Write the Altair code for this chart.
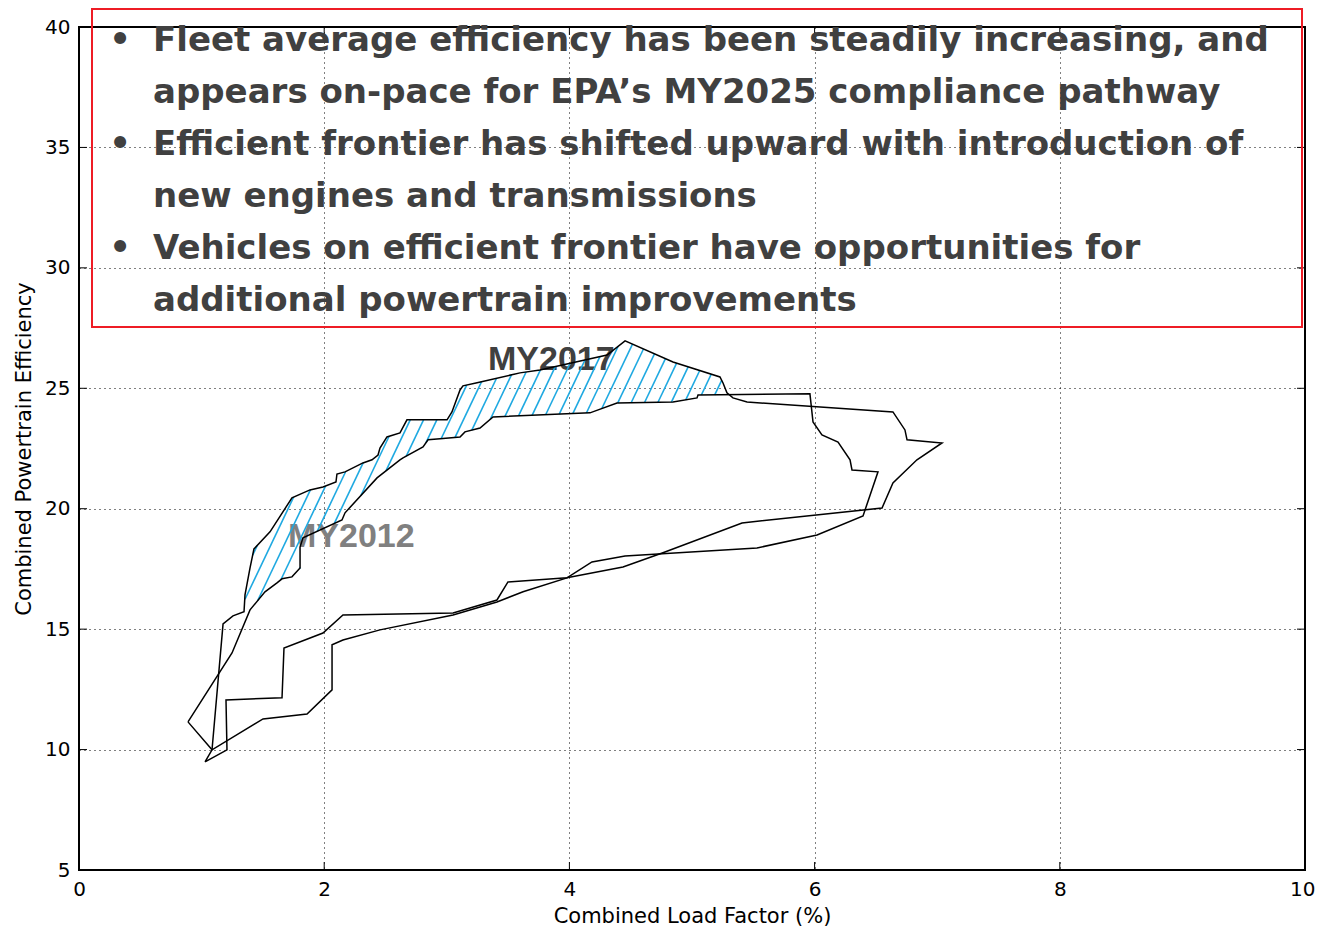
import altair as alt
import pandas as pd
import numpy as np

# ---------------- data ----------------
# MY2017 envelope (closed loop): frontier, right side, lower boundary
MY2017_X = [1.028, 1.085, 1.175, 1.256, 1.346, 1.354, 1.395, 1.427, 1.558, 1.737,
            1.884, 1.990, 2.096, 2.104, 2.170, 2.316, 2.390, 2.439, 2.455, 2.512,
            2.618, 2.675, 3.002, 3.042, 3.108, 3.132, 3.238, 3.597, 3.760, 4.307,
            4.454, 4.845, 5.228, 5.253, 5.285, 5.334, 5.449, 6.639, 6.737, 6.754,
            7.039, 6.835, 6.639, 6.550, 5.408, 4.763, 4.437, 3.980, 3.499, 3.409,
            3.051, 2.153, 1.990, 1.672, 1.656, 1.199, 1.207]
MY2017_Y = [9.49, 9.99, 15.22, 15.55, 15.72, 16.42, 17.54, 18.33, 19.04, 20.45,
            20.78, 20.90, 21.11, 21.44, 21.53, 21.90, 22.03, 22.23, 22.52, 22.98,
            23.15, 23.69, 23.69, 24.02, 24.93, 25.10, 25.22, 25.64, 25.76, 26.38,
            26.97, 26.09, 25.47, 25.22, 24.81, 24.60, 24.43, 24.02, 23.27, 22.86,
            22.73, 22.03, 21.07, 20.03, 19.41, 18.17, 17.58, 17.13, 16.96, 16.21,
            15.67, 15.59, 14.84, 14.22, 12.15, 12.06, 9.99]
MY2017_FRONTIER_END = 37   # points before this index form the upper frontier

# MY2012 envelope (closed loop)
MY2012_X = [0.889, 1.248, 1.395, 1.517, 1.615, 1.656, 1.737, 1.803, 1.803, 1.827,
            2.145, 2.170, 2.431, 2.618, 2.643, 2.806, 2.847, 2.945, 3.108, 3.148,
            3.271, 3.377, 4.168, 4.388, 4.845, 5.041, 5.049, 5.962, 5.987, 6.060,
            6.191, 6.289, 6.305, 6.517, 6.395, 6.020, 5.530, 4.454, 4.184, 3.980,
            3.622, 3.409, 3.051, 2.455, 2.153, 2.064, 2.064, 1.860, 1.501, 1.085]
MY2012_Y = [11.15, 14.01, 15.80, 16.55, 16.92, 17.09, 17.17, 17.54, 18.41, 18.79,
            19.53, 19.83, 21.28, 22.03, 22.11, 22.57, 22.86, 22.90, 22.98, 23.19,
            23.35, 23.81, 23.98, 24.39, 24.43, 24.60, 24.72, 24.77, 23.60, 23.06,
            22.77, 22.03, 21.61, 21.53, 19.70, 18.91, 18.37, 18.04, 17.79, 17.13,
            16.55, 16.13, 15.59, 14.97, 14.55, 14.35, 12.48, 11.48, 11.27, 9.99]
MY2012_FRONTIER_END = 28

# frontier shift region (hatched) spans this x range
HATCH_FROM, HATCH_TO = 1.354, 5.253

LABELS = ["MY2017", "MY2012"]
LABEL_X = [3.336, 1.705]
LABEL_Y = [25.76, 18.41]

X_TICKS = [0, 2, 4, 6, 8, 10]
Y_TICKS = [5, 10, 15, 20, 25, 30, 35, 40]

BOX_LINES = [
    "Fleet average efficiency has been steadily increasing, and",
    "appears on-pace for EPA\u2019s MY2025 compliance pathway",
    "Efficient frontier has shifted upward with introduction of",
    "new engines and transmissions",
    "Vehicles on efficient frontier have opportunities for",
    "additional powertrain improvements",
]
BULLETS = ["\u2022", "\u2022", "\u2022"]

# ---------------- layout ----------------
W, H = 1226, 843
XDOM, YDOM = [0, 10], [5, 40]
LINE_H = 52


def to_px(x, y):
    return (x - XDOM[0]) * W / (XDOM[1] - XDOM[0]), (YDOM[1] - y) * H / (YDOM[1] - YDOM[0])


def to_data(px, py):
    return XDOM[0] + px * (XDOM[1] - XDOM[0]) / W, YDOM[1] - py * (YDOM[1] - YDOM[0]) / H


# loops dataframe
rows = []
for name, xs, ys in [("MY2017", MY2017_X, MY2017_Y), ("MY2012", MY2012_X, MY2012_Y)]:
    for i, (x, y) in enumerate(list(zip(xs, ys)) + [(xs[0], ys[0])]):
        rows.append({"series": name, "i": i, "x": x, "y": y})
loops = pd.DataFrame(rows)

# hatch polygon between the two frontiers
top = [(x, y) for x, y in zip(MY2017_X[:MY2017_FRONTIER_END], MY2017_Y[:MY2017_FRONTIER_END])
       if HATCH_FROM <= x <= HATCH_TO]
bx = np.array(MY2012_X[:MY2012_FRONTIER_END])
by = np.array(MY2012_Y[:MY2012_FRONTIER_END])
bottom = [(HATCH_FROM, float(np.interp(HATCH_FROM, bx, by)))]
bottom += [(x, y) for x, y in zip(bx, by) if HATCH_FROM < x < HATCH_TO]
bottom += [(HATCH_TO, float(np.interp(HATCH_TO, bx, by)))]
poly = top + bottom[::-1]
poly_px = [to_px(x, y) for x, y in poly]

SLOPE = 2.1      # hatch steepness (pixel space)
STEP = 13.3      # hatch spacing (pixels)
C0 = 438.5


def hatch_segments(pp):
    vals = [p[0] + p[1] / SLOPE for p in pp]
    n0 = int(np.floor((min(vals) - C0) / STEP))
    n1 = int(np.ceil((max(vals) - C0) / STEP))
    segs = []
    m = len(pp)
    for n in range(n0, n1 + 1):
        c = C0 + n * STEP
        pts = []
        for k in range(m):
            (x1, y1), (x2, y2) = pp[k], pp[(k + 1) % m]
            f1 = x1 + y1 / SLOPE - c
            f2 = x2 + y2 / SLOPE - c
            if (f1 < 0) != (f2 < 0):
                t = f1 / (f1 - f2)
                pts.append((x1 + t * (x2 - x1), y1 + t * (y2 - y1)))
        pts.sort(key=lambda p: p[1])
        for j in range(0, len(pts) - 1, 2):
            segs.append((pts[j], pts[j + 1]))
    return segs


hrows = []
for (p1, p2) in hatch_segments(poly_px):
    x1, y1 = to_data(*p1)
    x2, y2 = to_data(*p2)
    hrows.append({"x": x1, "y": y1, "x2": x2, "y2": y2})
hatch = pd.DataFrame(hrows)

xscale = alt.Scale(domain=XDOM, nice=False, zero=False)
yscale = alt.Scale(domain=YDOM, nice=False, zero=False)

base_axes = alt.Chart(pd.DataFrame({"x": [0], "y": [5]})).mark_point(opacity=0).encode(
    x=alt.X("x:Q", scale=xscale,
            axis=alt.Axis(values=X_TICKS, format="d", title="Combined Load Factor (%)",
                          titlePadding=6,
                          labelAlign=alt.expr("datum.value == 10 ? 'right' : 'center'"),
                          labelOffset=alt.expr("datum.value == 10 ? 10 : 0"))),
    y=alt.Y("y:Q", scale=yscale,
            axis=alt.Axis(values=Y_TICKS, format="d", title="Combined Powertrain Efficiency",
                          titlePadding=10)),
)

lab_df = pd.DataFrame({"label": LABELS, "x": LABEL_X, "y": LABEL_Y})
labels = alt.Chart(lab_df).mark_text(
    font="Liberation Sans", fontWeight="bold", fontSize=34, align="left", baseline="alphabetic"
).encode(
    x=alt.X("x:Q", scale=xscale),
    y=alt.Y("y:Q", scale=yscale),
    text="label:N",
    color=alt.Color("label:N", scale=alt.Scale(domain=LABELS, range=["#404040", "#808080"]), legend=None),
)

hatch_layer = alt.Chart(hatch).mark_rule(color="#1FA9E1", strokeWidth=1.6).encode(
    x=alt.X("x:Q", scale=xscale), y=alt.Y("y:Q", scale=yscale),
    x2="x2:Q", y2="y2:Q",
)

loop_layer = alt.Chart(loops).mark_line(color="black", strokeWidth=1.5).encode(
    x=alt.X("x:Q", scale=xscale),
    y=alt.Y("y:Q", scale=yscale),
    order="i:Q",
    detail="series:N",
)

# inside ticks on all four sides (matplotlib classic look)
ytk = pd.DataFrame({"y": Y_TICKS})
xtk = pd.DataFrame({"x": X_TICKS})
tick_l = alt.Chart(ytk).mark_rule(color="black", strokeWidth=1).encode(
    y=alt.Y("y:Q", scale=yscale), x=alt.value(0), x2=alt.value(8))
tick_r = alt.Chart(ytk).mark_rule(color="black", strokeWidth=1).encode(
    y=alt.Y("y:Q", scale=yscale), x=alt.value(W - 8), x2=alt.value(W))
tick_b = alt.Chart(xtk).mark_rule(color="black", strokeWidth=1).encode(
    x=alt.X("x:Q", scale=xscale), y=alt.value(H - 8), y2=alt.value(H))
tick_t = alt.Chart(xtk).mark_rule(color="black", strokeWidth=1).encode(
    x=alt.X("x:Q", scale=xscale), y=alt.value(0), y2=alt.value(8))

one = pd.DataFrame({"a": [0]})
box = alt.Chart(one).mark_rect(fill=None, stroke="#EE1C25", strokeWidth=2, fillOpacity=0).encode(
    x=alt.value(13), x2=alt.value(1223), y=alt.value(-18), y2=alt.value(300))

box_text = alt.Chart(one).mark_text(
    text=BOX_LINES, font="DejaVu Sans", fontWeight="bold", fontSize=34, color="#404040",
    align="left", baseline="alphabetic", lineHeight=LINE_H,
).encode(x=alt.value(74), y=alt.value(24))

bullet_text = alt.Chart(one).mark_text(
    text=BULLETS, font="DejaVu Sans", fontWeight="bold", fontSize=34, color="#404040",
    align="center", baseline="alphabetic", lineHeight=2 * LINE_H,
).encode(x=alt.value(41), y=alt.value(24))

chart = alt.layer(
    base_axes, labels, hatch_layer, loop_layer,
    tick_l, tick_r, tick_b, tick_t,
    box, box_text, bullet_text,
).properties(
    width=W, height=H,
    autosize=alt.AutoSizeParams(type="none"),
    padding={"left": 71, "top": 19, "right": 11, "bottom": 58},
).configure_axis(
    grid=True, gridColor="black", gridDash=[1, 4], gridWidth=1, gridOpacity=1,
    domain=False, ticks=False,
    labelFont="DejaVu Sans", labelFontSize=20, labelColor="black", labelPadding=9,
    labelFlush=False, labelOverlap=False,
    titleFont="DejaVu Sans", titleFontSize=21, titleFontWeight="normal", titleColor="black",
).configure_view(
    stroke="black", strokeWidth=2,
)

chart.save("out.html", embed_options={"renderer": "svg", "actions": False})
